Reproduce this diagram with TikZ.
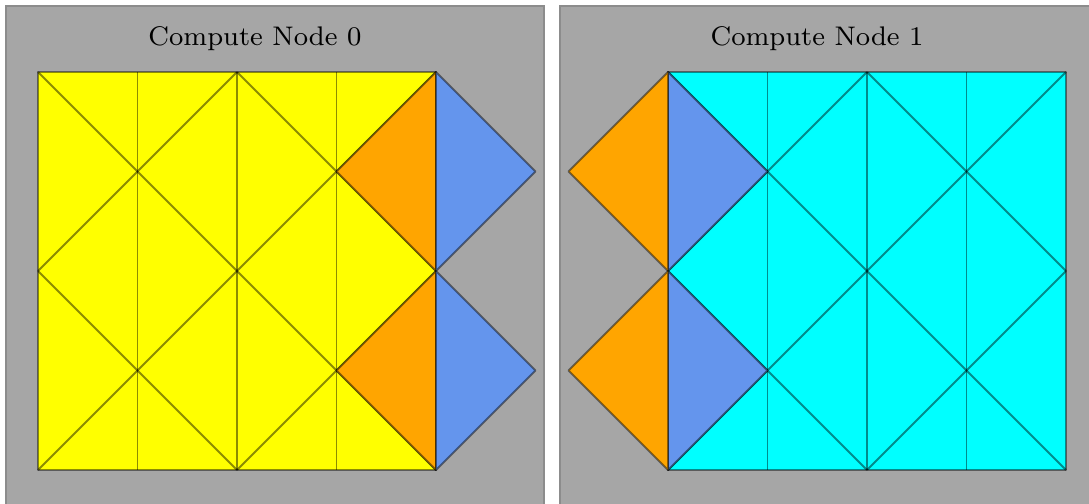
\documentclass[tikz,border=0pt]{standalone}
\usepackage{tikz}
\definecolor{panelgray}{RGB}{166,166,166}
\definecolor{ownyellow}{RGB}{255,255,0}
\definecolor{owncyan}{RGB}{0,255,255}
\definecolor{ghostorange}{RGB}{255,165,0}
\definecolor{ghostblue}{RGB}{100,149,237}
\begin{document}
\begin{tikzpicture}[scale=1,
    panel/.style={fill=panelgray,draw=black!45,line width=0.6pt},
    cell/.style={draw=black,draw opacity=0.45,line width=0.55pt,line join=round},
    title/.style={font=\fontsize{7.7}{9}\selectfont}]

\useasboundingbox[fill=white] (-0.382,-0.332) rectangle (10.563,4.724);

% panels
\draw[panel] (-0.322,-0.8) rectangle (5.085,4.663);
\draw[panel] (5.246,-0.8) rectangle (10.9,4.663);

\node[title] (title0) at (2.18,4.34) {Compute Node 0};
\node[title] (title1) at (7.83,4.34) {Compute Node 1};

% compute node 0
\fill[ownyellow] (0,0) rectangle (4,4);
\foreach \x in {1,2,3}
  \draw[cell] (\x,0) -- (\x,4);
\foreach \a/\b/\c/\d in {0/0/4/4, 2/0/4/2, 0/2/2/4, 0/2/2/0, 0/4/4/0, 2/4/4/2}
  \draw[cell] (\a,\b) -- (\c,\d);
\draw[cell] (0,0) rectangle (4,4);
\draw[cell,fill=ghostorange] (4,4) -- (3,3) -- (4,2) -- cycle;
\draw[cell,fill=ghostorange] (4,2) -- (3,1) -- (4,0) -- cycle;
\draw[cell,fill=ghostblue] (4,4) -- (5,3) -- (4,2) -- cycle;
\draw[cell,fill=ghostblue] (4,2) -- (5,1) -- (4,0) -- cycle;

% compute node 1
\begin{scope}[xshift=6.332cm]
\fill[owncyan] (0,0) rectangle (4,4);
\foreach \x in {1,2,3}
  \draw[cell] (\x,0) -- (\x,4);
\foreach \a/\b/\c/\d in {0/0/4/4, 2/0/4/2, 0/2/2/4, 0/2/2/0, 0/4/4/0, 2/4/4/2}
  \draw[cell] (\a,\b) -- (\c,\d);
\draw[cell] (0,0) rectangle (4,4);
\draw[cell,fill=ghostblue] (0,4) -- (1,3) -- (0,2) -- cycle;
\draw[cell,fill=ghostblue] (0,2) -- (1,1) -- (0,0) -- cycle;
\draw[cell,fill=ghostorange] (0,4) -- (-1,3) -- (0,2) -- cycle;
\draw[cell,fill=ghostorange] (0,2) -- (-1,1) -- (0,0) -- cycle;
\end{scope}
\end{tikzpicture}
\end{document}
